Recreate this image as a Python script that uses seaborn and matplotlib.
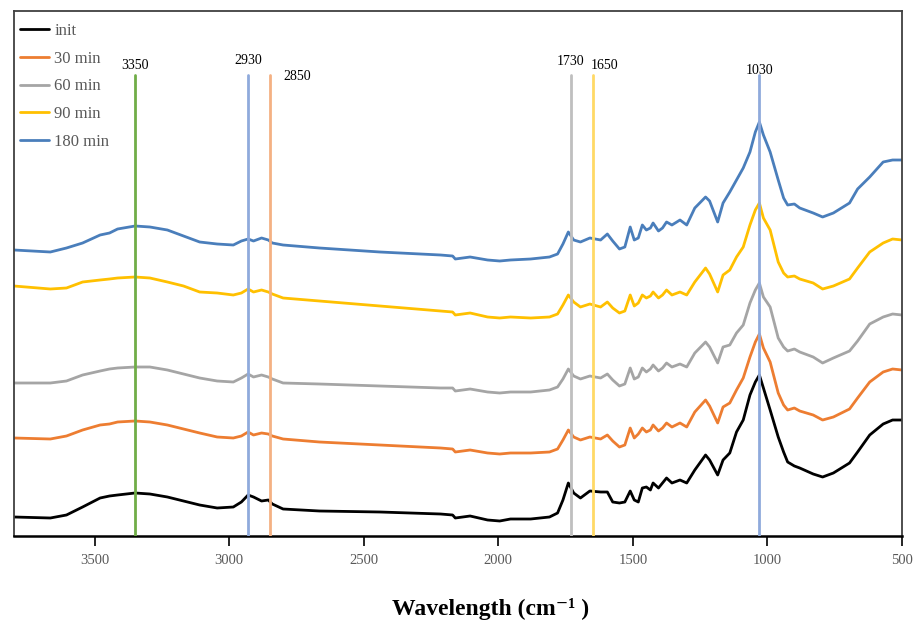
import numpy as np
import pandas as pd
import matplotlib
matplotlib.use("Agg")
import matplotlib.pyplot as plt
import seaborn as sns

# ---------------- data ----------------
wavenumber = [3800, 3665, 3605, 3545, 3480, 3445, 3415, 3350, 3295, 3230,
              3170, 3110, 3045, 2985, 2955, 2930,
              2910, 2880, 2855, 2840, 2800, 2665, 2440, 2215, 2170, 2160,
              2105, 2040, 1995, 1955, 1880, 1810, 1780, 1760, 1740, 1720,
              1695, 1660, 1620, 1595, 1575, 1550, 1530, 1510, 1495, 1480,
              1465, 1450, 1435, 1425, 1405, 1390, 1375, 1355, 1325, 1300,
              1270, 1230, 1215, 1185, 1165, 1140, 1115, 1090, 1065, 1045,
              1030, 1015, 990, 960, 940, 925, 900, 880, 830, 795,
              755, 695, 665, 620, 570, 535, 500]

init = [0.19, 0.18, 0.21, 0.29, 0.38, 0.40, 0.41, 0.43, 0.42, 0.39,
        0.35, 0.31, 0.28, 0.29, 0.34, 0.41,
        0.39, 0.35, 0.36, 0.32, 0.27, 0.25, 0.24, 0.22, 0.21, 0.18,
        0.20, 0.16, 0.15, 0.17, 0.17, 0.19, 0.23, 0.36, 0.53, 0.43,
        0.38, 0.45, 0.44, 0.44, 0.34, 0.33, 0.34, 0.45, 0.36, 0.34,
        0.48, 0.49, 0.46, 0.53, 0.48, 0.53, 0.58, 0.53, 0.56, 0.53,
        0.66, 0.81, 0.76, 0.61, 0.76, 0.83, 1.04, 1.16, 1.41, 1.54,
        1.61, 1.48, 1.26, 0.99, 0.84, 0.74, 0.70, 0.68, 0.62, 0.59,
        0.63, 0.73, 0.84, 1.01, 1.12, 1.16, 1.16]

min30 = [0.98, 0.97, 1.00, 1.06, 1.11, 1.12, 1.14, 1.15, 1.14, 1.11,
         1.07, 1.03, 0.99, 0.98, 1.00, 1.04,
         1.01, 1.03, 1.02, 1.00, 0.97, 0.94, 0.91, 0.88, 0.87, 0.84,
         0.86, 0.83, 0.82, 0.83, 0.83, 0.84, 0.87, 0.96, 1.06, 0.99,
         0.96, 0.99, 0.97, 1.01, 0.95, 0.89, 0.91, 1.08, 0.98, 1.02,
         1.08, 1.04, 1.06, 1.11, 1.05, 1.08, 1.13, 1.09, 1.13, 1.09,
         1.24, 1.36, 1.30, 1.13, 1.29, 1.33, 1.46, 1.58, 1.79, 1.94,
         2.02, 1.88, 1.74, 1.43, 1.31, 1.26, 1.28, 1.25, 1.21, 1.16,
         1.19, 1.27, 1.38, 1.54, 1.64, 1.67, 1.66]

min60 = [1.53, 1.53, 1.55, 1.61, 1.65, 1.67, 1.68, 1.69, 1.69, 1.66,
         1.62, 1.58, 1.55, 1.54, 1.58, 1.62,
         1.59, 1.61, 1.59, 1.57, 1.53, 1.52, 1.50, 1.48, 1.48, 1.45,
         1.47, 1.44, 1.43, 1.44, 1.44, 1.46, 1.49, 1.57, 1.67, 1.60,
         1.57, 1.60, 1.58, 1.62, 1.56, 1.50, 1.52, 1.68, 1.57, 1.59,
         1.68, 1.64, 1.67, 1.71, 1.65, 1.68, 1.73, 1.69, 1.72, 1.69,
         1.83, 1.94, 1.89, 1.73, 1.89, 1.91, 2.03, 2.11, 2.33, 2.46,
         2.53, 2.39, 2.29, 1.98, 1.89, 1.85, 1.87, 1.84, 1.79, 1.73,
         1.78, 1.85, 1.95, 2.12, 2.19, 2.22, 2.21]

min90 = [2.50, 2.47, 2.48, 2.54, 2.56, 2.57, 2.58, 2.59, 2.58, 2.54,
         2.50, 2.44, 2.43, 2.41, 2.43, 2.47,
         2.44, 2.46, 2.44, 2.42, 2.38, 2.35, 2.30, 2.25, 2.24, 2.21,
         2.23, 2.19, 2.18, 2.19, 2.18, 2.19, 2.22, 2.31, 2.41, 2.34,
         2.29, 2.32, 2.29, 2.34, 2.28, 2.23, 2.25, 2.41, 2.30, 2.33,
         2.41, 2.38, 2.40, 2.44, 2.38, 2.41, 2.46, 2.41, 2.44, 2.41,
         2.54, 2.68, 2.62, 2.44, 2.61, 2.66, 2.79, 2.89, 3.11, 3.26,
         3.33, 3.18, 3.06, 2.74, 2.63, 2.59, 2.60, 2.57, 2.53, 2.47,
         2.50, 2.57, 2.68, 2.84, 2.93, 2.97, 2.96]

min180 = [2.86, 2.84, 2.88, 2.93, 3.01, 3.03, 3.07, 3.10, 3.09, 3.06,
          3.00, 2.94, 2.92, 2.91, 2.95, 2.97,
          2.95, 2.98, 2.96, 2.93, 2.91, 2.88, 2.84, 2.81, 2.80, 2.77,
          2.79, 2.76, 2.75, 2.76, 2.77, 2.79, 2.82, 2.92, 3.04, 2.96,
          2.94, 2.98, 2.96, 3.02, 2.95, 2.87, 2.89, 3.09, 2.96, 2.98,
          3.11, 3.06, 3.08, 3.13, 3.05, 3.08, 3.14, 3.11, 3.16, 3.11,
          3.28, 3.39, 3.35, 3.14, 3.33, 3.44, 3.56, 3.68, 3.84, 4.04,
          4.14, 4.01, 3.84, 3.56, 3.38, 3.31, 3.32, 3.28, 3.23, 3.19,
          3.23, 3.33, 3.47, 3.59, 3.74, 3.76, 3.76]

series_names = ["init", "30 min", "60 min", "90 min", "180 min"]
series_colors = ["#000000", "#ED7D31", "#A5A5A5", "#FFC000", "#4A7EBB"]

marker_positions = [3350, 2930, 2850, 1730, 1650, 1030]
marker_labels = ["3350", "2930", "2850", "1730", "1650", "1030"]
marker_colors = ["#70AD47", "#8FAADC", "#F4B183", "#BFBFBF", "#FFD966", "#8FAADC"]

xticks = [3500, 3000, 2500, 2000, 1500, 1000, 500]

# ---------------- figure ----------------
sns.set_style("white")
plt.rcParams["font.family"] = ["Liberation Serif", "DejaVu Serif"]

W, H = 919, 623
fig = plt.figure(figsize=(W / 100, H / 100), dpi=100)
ax = fig.add_axes([14 / W, (H - 536) / H, (902 - 14) / W, (536 - 11) / H])

frames = []
for name, vals in zip(series_names, [init, min30, min60, min90, min180]):
    frames.append(pd.DataFrame({"wavenumber": wavenumber, "absorbance": vals, "series": name}))
df = pd.concat(frames, ignore_index=True)

sns.lineplot(data=df, x="wavenumber", y="absorbance", hue="series",
             hue_order=series_names, palette=series_colors, estimator=None,
             linewidth=2.0, ax=ax, zorder=2)

ymax = 5.25
line_top = (536 - 75) / 100
for pos, col in zip(marker_positions, marker_colors):
    ax.plot([pos, pos], [0, line_top], color=col, linewidth=2.0, zorder=3)

label_y = {"3350": 4.64, "2930": 4.69, "2850": 4.53, "1730": 4.68, "1650": 4.64, "1030": 4.59}
label_x = {"3350": 3350, "2930": 2930, "2850": 2748, "1730": 1730, "1650": 1607, "1030": 1030}
for lab in marker_labels:
    ax.text(label_x[lab], label_y[lab], lab, ha="center", va="bottom",
            fontsize=10, color="black")

ax.set_xlim(3800, 500)
ax.set_ylim(0, ymax)
ax.set_xticks(xticks)
ax.set_xticklabels([str(t) for t in xticks], fontsize=10.5, color="#595959")
ax.set_yticks([])
ax.set_ylabel("")
ax.set_xlabel("")
ax.tick_params(axis="x", direction="out", length=7, width=1.2, color="black", pad=6,
               bottom=True)
for side in ["top", "left", "right"]:
    ax.spines[side].set_color("#404040")
    ax.spines[side].set_linewidth(1.3)
ax.spines["bottom"].set_color("black")
ax.spines["bottom"].set_linewidth(1.8)

fig.text(491 / W, 1 - 609 / H, "Wavelength (cm\u207b\u00b9 )", fontsize=17,
         fontweight="bold", color="black", ha="center", va="center")

leg = ax.legend(loc="upper left", bbox_to_anchor=(6 / 888, 1 - 12 / 525),
                frameon=False, fontsize=12, handlelength=1.75, handletextpad=0.3,
                labelspacing=0.70, borderpad=0, borderaxespad=0)
for t in leg.get_texts():
    t.set_color("#595959")

fig.savefig("out.png", dpi=100)
